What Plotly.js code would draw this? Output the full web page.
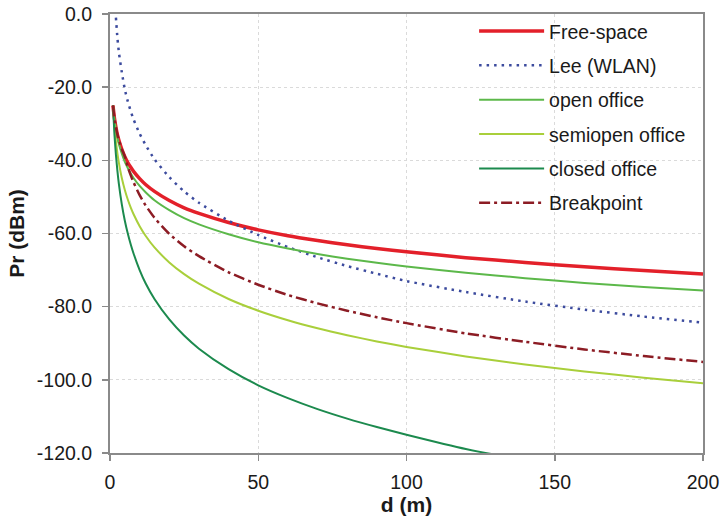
<!DOCTYPE html>
<html>
<head>
<meta charset="utf-8">
<script src="https://cdn.plot.ly/plotly-3.0.1.min.js"></script>
<style>html,body{margin:0;padding:0;background:#fff;}#chart{width:722px;height:525px;}</style>
</head>
<body>
<div id="chart"></div>
<script>
// distances (m)
var dist = [1, 1.5, 2, 2.5, 3, 4, 5, 6, 7, 8, 10, 12, 15, 20, 25, 30, 40, 50, 60, 70, 80, 90, 100, 120, 140, 160, 180, 200];
var distLee = [2, 2.5, 3, 4, 5, 6, 7, 8, 10, 12, 15, 20, 25, 30, 40, 50, 60, 70, 80, 90, 100, 120, 140, 160, 180, 200];

// received power (dBm)
var freeSpace = [-25, -28.5, -31.0, -33.0, -34.5, -37.0, -39.0, -40.6, -41.9, -43.1, -45.0, -46.6, -48.5, -51.0, -53.0, -54.5, -57.0, -59.0, -60.6, -61.9, -63.1, -64.1, -65.0, -66.6, -67.9, -69.1, -70.1, -71.1];
var leeWlan = [-1.0, -6.5, -10.5, -16.0, -20.6, -23.9, -26.6, -28.9, -32.7, -35.8, -39.7, -44.6, -48.5, -51.6, -56.5, -60.4, -63.7, -66.5, -68.9, -71.0, -73.0, -76.0, -78.6, -80.8, -82.7, -84.4];
var openOffice = [-25, -28.9, -31.6, -33.8, -35.5, -38.2, -40.4, -42.1, -43.6, -44.9, -47.0, -48.7, -50.9, -53.6, -55.8, -57.5, -60.2, -62.4, -64.1, -65.6, -66.9, -68.0, -69.0, -70.7, -72.2, -73.5, -74.6, -75.6];
var semiopenOffice = [-25, -30.8, -34.9, -38.1, -40.7, -44.9, -48.1, -50.7, -52.9, -54.8, -58.0, -60.6, -63.8, -67.9, -71.1, -73.7, -77.9, -81.1, -83.7, -85.9, -87.8, -89.5, -91.0, -93.6, -95.8, -97.7, -99.4, -100.9];
var closedOffice = [-25, -32.9, -38.5, -42.9, -46.5, -52.1, -56.5, -60.0, -63.0, -65.6, -70.0, -73.6, -77.9, -83.5, -87.9, -91.5, -97.1, -101.5, -105.0, -108.0, -110.6, -112.9, -115.0, -118.9, -121.9, -124.4, -126.6, -128.6];
var breakpoint = [-25, -28.5, -31.0, -33.0, -34.5, -37.0, -39.0, -41.8, -44.1, -46.1, -49.5, -52.3, -55.7, -60.1, -63.5, -66.2, -70.6, -74.0, -76.8, -79.1, -81.1, -82.9, -84.5, -87.3, -89.6, -91.7, -93.5, -95.1];

var seriesNames = ['Free-space', 'Lee (WLAN)', 'open office', 'semiopen office', 'closed office', 'Breakpoint'];

// tick labels
var xTickVals = [0, 50, 100, 150, 200];
var xTickText = ['0', '50', '100', '150', '200'];
var yTickVals = [0, -20, -40, -60, -80, -100, -120];
var yTickText = ['0.0', '-20.0', '-40.0', '-60.0', '-80.0', '-100.0', '-120.0'];

var FONT = 'Liberation Sans, Arial, sans-serif';

function tr(x, y, name, color, width, dash, grp) {
  return {x: x, y: y, name: name, type: 'scatter', mode: 'lines',
          line: {color: color, width: width, dash: dash, shape: 'spline', smoothing: 0.6},
          legendgroup: grp, cliponaxis: true};
}

var data = [
  tr(dist, freeSpace, seriesNames[0], '#e3202a', 3.5, 'solid', 'g1'),
  tr(distLee, leeWlan, seriesNames[1], '#3c4b9e', 2.5, '2.5px,5px', 'g2'),
  tr(dist, openOffice, seriesNames[2], '#5cb84a', 2, 'solid', 'g3'),
  tr(dist, semiopenOffice, seriesNames[3], '#a9cf3b', 2, 'solid', 'g4'),
  tr(dist, closedOffice, seriesNames[4], '#1c8a4e', 2, 'solid', 'g5'),
  tr(dist, breakpoint, seriesNames[5], '#8c1c24', 2.5, '11px,4px,3px,4px', 'g6')
];

var axisCommon = {
  showline: true, linecolor: '#8a8a8a', linewidth: 2, mirror: true,
  ticks: 'outside', ticklen: 6, tickcolor: '#8a8a8a', tickwidth: 1.5,
  showgrid: true, gridcolor: '#dadada', gridwidth: 1.2, griddash: 'dot',
  zeroline: false, tickfont: {family: FONT, size: 19.5, color: '#1a1a1a'}
};

var layout = {
  width: 722, height: 525,
  margin: {l: 110, r: 19, t: 14, b: 72},
  paper_bgcolor: '#ffffff', plot_bgcolor: '#ffffff',
  showlegend: true,
  legend: {x: 0.614, y: 1.005, xanchor: 'left', yanchor: 'top', bgcolor: 'rgba(0,0,0,0)',
           font: {family: FONT, size: 19.5, color: '#1a1a1a'}, tracegroupgap: 6, itemwidth: 65},
  xaxis: Object.assign({}, axisCommon, {
    range: [0, 200], tickvals: xTickVals, ticktext: xTickText, ticklabelstandoff: 5,
    title: {text: '<b>d (m)</b>', font: {family: FONT, size: 21, color: '#1a1a1a'}, standoff: 2}
  }),
  yaxis: Object.assign({}, axisCommon, {
    range: [-120, 0], tickvals: yTickVals, ticktext: yTickText, ticklabelstandoff: 6,
    title: {text: '<b>Pr (dBm)</b>', font: {family: FONT, size: 21, color: '#1a1a1a'}, standoff: 6}
  })
};

Plotly.newPlot('chart', data, layout, {displayModeBar: false, staticPlot: true});
</script>
</body>
</html>
